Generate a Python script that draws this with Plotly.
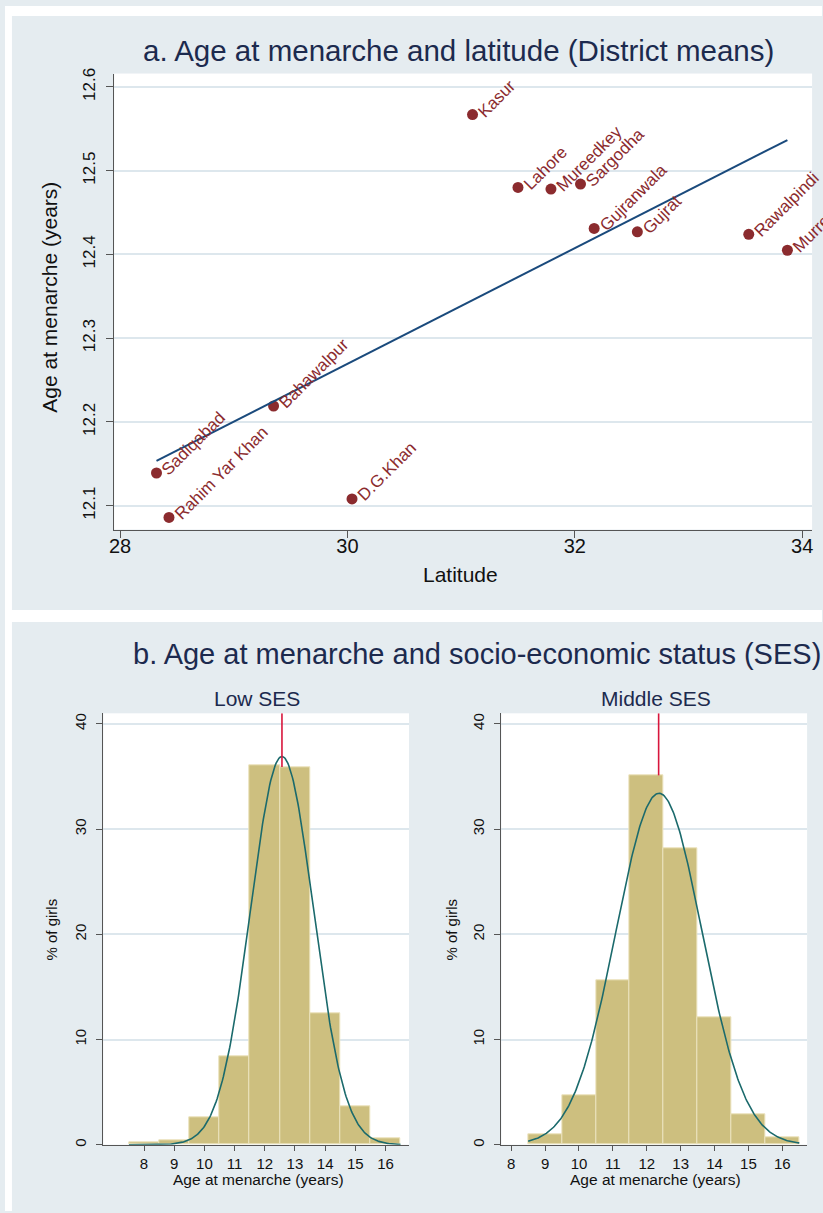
import numpy as np
import plotly.graph_objects as go

W, H = 823, 1213

# ---- Panel a: district means ----
districts = ["Kasur", "Lahore", "Mureedkey", "Sargodha", "Gujranwala", "Gujrat",
             "Rawalpindi", "Murree", "Bahawalpur", "Sadiqabad", "Rahim Yar Khan", "D.G.Khan"]
latitude = [31.10, 31.50, 31.79, 32.05, 32.17, 32.55, 33.53, 33.87, 29.35, 28.32, 28.43, 30.04]
menarche_age = [12.567, 12.480, 12.478, 12.484, 12.431, 12.427, 12.424, 12.405,
                12.219, 12.139, 12.086, 12.108]
lat_ticks = [28, 30, 32, 34]
age_ticks = [12.1, 12.2, 12.3, 12.4, 12.5, 12.6]

# ---- Panel b: histograms of age at menarche by SES (percent of girls) ----
low_bins = [8, 9, 10, 11, 12, 13, 14, 15, 16]
low_pct = [0.2, 0.4, 2.6, 8.4, 36.1, 35.9, 12.45, 3.7, 0.57]
mid_bins = [9, 10, 11, 12, 13, 14, 15, 16]
mid_pct = [1.0, 4.74, 15.6, 35.1, 28.2, 12.1, 2.87, 0.66]
# normal overlay: mean, sd, height at the mean
low_norm = (12.57, 1.04, 36.9)
mid_norm = (12.36, 1.27, 33.4)
low_mean_age = 12.57
mid_mean_age = 12.35
hist_ticks = [8, 9, 10, 11, 12, 13, 14, 15, 16]
pct_ticks = [0, 10, 20, 30, 40]

FONT = "Liberation Sans, Arial, sans-serif"
NAVY = "#1c2a4e"
PANEL_BG = "#e5ecf0"
GRID = "#dde7ed"
AXIS = "#555555"
DOT = "#8b2b2e"
BAR = "#cdbf7f"
CURVE = "#1b6a6c"
SPIKE = "#d8163c"


def px_x(p):
    return p / W


def px_y(p):
    return 1 - p / H


fig = go.Figure()

# scatter of district means
fig.add_trace(go.Scatter(
    x=latitude, y=menarche_age, mode="markers",
    marker=dict(size=11, color=DOT), xaxis="x", yaxis="y", showlegend=False))

# linear fit across the observed latitude range
slope, intercept = np.polyfit(latitude, menarche_age, 1)
fx = np.array([min(latitude), max(latitude)])
fig.add_trace(go.Scatter(
    x=fx, y=intercept + slope * fx, mode="lines",
    line=dict(color="#1a4a7c", width=2), xaxis="x", yaxis="y", showlegend=False))

annotations = []
for name, lx, ly in zip(districts, latitude, menarche_age):
    annotations.append(dict(
        x=lx, y=ly, xref="x", yref="y", text=name, showarrow=False,
        textangle=-45, xanchor="left", yanchor="bottom", xshift=-1, yshift=-9,
        font=dict(family=FONT, size=17, color=DOT)))


def hist_panel(bins, pct, norm, mean_age, xa, ya):
    fig.add_trace(go.Bar(
        x=bins, y=pct, width=1.0, marker=dict(color=BAR, line=dict(color="#ebe3bd", width=1)),
        xaxis=xa, yaxis=ya, showlegend=False))
    mu, sd, peak = norm
    cx = np.linspace(bins[0] - 0.5, bins[-1] + 0.5, 300)
    fig.add_trace(go.Scatter(
        x=cx, y=peak * np.exp(-0.5 * ((cx - mu) / sd) ** 2), mode="lines",
        line=dict(color=CURVE, width=1.6), xaxis=xa, yaxis=ya, showlegend=False))
    # height of the bar containing the mean, where the spike starts
    idx = int(np.argmin([abs(b - mean_age) for b in bins]))
    fig.add_trace(go.Scatter(
        x=[mean_age, mean_age], y=[pct[idx], 41.0], mode="lines",
        line=dict(color=SPIKE, width=1.6), xaxis=xa, yaxis=ya, showlegend=False))


hist_panel(low_bins, low_pct, low_norm, low_mean_age, "x2", "y2")
hist_panel(mid_bins, mid_pct, mid_norm, mid_mean_age, "x3", "y3")

axis_common = dict(showline=True, linecolor=AXIS, linewidth=1.3, ticks="outside",
                   tickcolor=AXIS, tickwidth=1, zeroline=False)

layout = dict(
    width=W, height=H, margin=dict(l=0, r=0, t=0, b=0),
    paper_bgcolor=PANEL_BG, plot_bgcolor="white", bargap=0,
    font=dict(family=FONT, color="#111111"),
    xaxis=dict(domain=[px_x(110), px_x(813)], range=[27.948, 34.087], tickvals=lat_ticks,
               showgrid=False, tickfont=dict(size=20), anchor="y", ticklen=7,
               ticklabelstandoff=-9, **axis_common),
    yaxis=dict(domain=[px_y(527), px_y(68)], range=[12.0715, 12.616], tickvals=age_ticks,
               ticktext=[f"{v:.1f}" for v in age_ticks], tickangle=-90,
               showgrid=True, gridcolor=GRID, gridwidth=1.5, ticklen=7,
               ticklabelstandoff=4, tickfont=dict(size=17), anchor="x", **axis_common),
    xaxis2=dict(domain=[px_x(99), px_x(407)], range=[6.65, 16.78], tickvals=hist_ticks,
                showgrid=False, tickfont=dict(size=15), anchor="y2", ticklen=5,
                **axis_common),
    yaxis2=dict(domain=[px_y(1146.3), px_y(712)], range=[0, 41.0], tickvals=pct_ticks,
                tickangle=-90, showgrid=True, gridcolor=GRID, gridwidth=1.5, ticklen=6,
                ticklabelstandoff=4, tickfont=dict(size=15), anchor="x2", **axis_common),
    xaxis3=dict(domain=[px_x(500), px_x(808)], range=[7.71, 16.73], tickvals=hist_ticks,
                showgrid=False, tickfont=dict(size=15), anchor="y3", ticklen=5,
                **axis_common),
    yaxis3=dict(domain=[px_y(1146.3), px_y(712)], range=[0, 41.0], tickvals=pct_ticks,
                tickangle=-90, showgrid=True, gridcolor=GRID, gridwidth=1.5, ticklen=6,
                ticklabelstandoff=4, tickfont=dict(size=15), anchor="x3", **axis_common),
)


def paper_text(text, x, y, size, color="#111111", angle=0):
    annotations.append(dict(
        x=px_x(x), y=px_y(y), xref="paper", yref="paper", text=text, showarrow=False,
        textangle=angle, xanchor="center", yanchor="middle",
        font=dict(family=FONT, size=size, color=color)))


paper_text("a. Age at menarche and latitude (District means)", 457, 45, 29.5, NAVY)
paper_text("Age at menarche (years)", 44, 293, 21, angle=-90)
paper_text("Latitude", 459, 572, 21)
paper_text("b. Age at menarche and socio-economic status (SES)", 475, 652, 29, NAVY)
paper_text("Low SES", 254, 697, 21, NAVY)
paper_text("Middle SES", 656, 697, 21, NAVY)
paper_text("Age at menarche (years)", 255, 1181, 15.5)
paper_text("Age at menarche (years)", 655, 1181, 15.5)
paper_text("% of girls", 47, 930, 15, angle=-90)
paper_text("% of girls", 450, 930, 15, angle=-90)

layout["annotations"] = annotations
# white page strips around the two grey graph regions
white_strips = [
    (0, 0, W, 10),      # above panel a
    (0, 0, 7, H),       # left margin
    (0, 608, W, 620),   # gap between panels
]
layout["shapes"] = [
    dict(type="rect", xref="paper", yref="paper", x0=px_x(a), x1=px_x(c),
         y0=px_y(d), y1=px_y(b), fillcolor="white", line=dict(width=0), layer="above")
    for a, b, c, d in white_strips
]

fig.update_layout(**layout)
fig.write_html("out.html")
